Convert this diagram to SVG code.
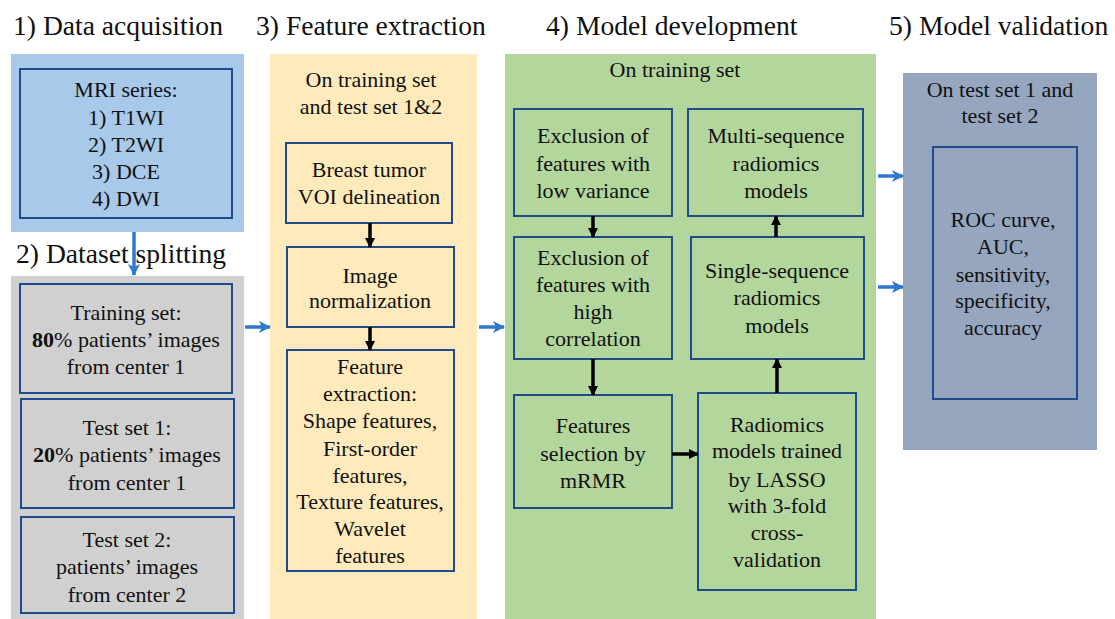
<svg xmlns="http://www.w3.org/2000/svg" width="1115" height="619" viewBox="0 0 1115 619">
<defs>
<style>
text{fill:#111;}
.t{font-size:27.6px;}
.b{font-size:22px;text-anchor:middle;}
.box{stroke:#1f4b8a;stroke-width:2;}
.blue{stroke:#2e78d0;stroke-width:3.5;fill:none;}
.blk{stroke:#000;stroke-width:3.5;fill:none;}
</style>
<marker id="ab" markerUnits="userSpaceOnUse" markerWidth="12" markerHeight="12" refX="11" refY="6" orient="auto"><path d="M0,0 L12,6 L0,12 L3,6 Z" fill="#2e78d0"/></marker>
<marker id="ak" markerUnits="userSpaceOnUse" markerWidth="10" markerHeight="10" refX="9" refY="5" orient="auto"><path d="M0,0 L10,5 L0,10 Z" fill="#000"/></marker>
</defs>
<rect width="1115" height="619" fill="#fff"/>

<g font-family="Liberation Serif, DejaVu Serif, serif">
<g id="titles">
<text class="t" x="13" y="35">1) Data acquisition</text>
<text class="t" x="256" y="35">3) Feature extraction</text>
<text class="t" x="546" y="35">4) Model development</text>
<text class="t" x="889" y="35">5) Model validation</text>
<text class="t" x="16" y="263">2) Dataset splitting</text>
</g>

<g id="panels">
<rect x="11" y="54" width="233" height="178" fill="#a8c9e9"/>
<rect x="11" y="276" width="233" height="343" fill="#d0d0d0"/>
<rect x="270" y="54" width="207" height="565" fill="#feeabb"/>
<rect x="505" y="54" width="371" height="565" fill="#b3d69d"/>
<rect x="903" y="73" width="194" height="377" fill="#95a6be"/>
</g>

<g id="mri">
<rect class="box" x="20" y="69" width="212" height="149" fill="#a8c9e9"/>
<text class="b" x="126" y="97">MRI series:</text>
<text class="b" x="126" y="125">1) T1WI</text>
<text class="b" x="126" y="152">2) T2WI</text>
<text class="b" x="126" y="179">3) DCE</text>
<text class="b" x="126" y="206">4) DWI</text>
</g>

<g id="training">
<rect class="box" x="20" y="284" width="212" height="109" fill="#d0d0d0"/>
<text class="b" x="126" y="320">Training set:</text>
<text class="b" x="126" y="347"><tspan font-weight="bold">80</tspan>% patients’ images</text>
<text class="b" x="126" y="374">from center 1</text>
</g>

<g id="test1">
<rect class="box" x="21" y="399" width="213" height="109" fill="#d0d0d0"/>
<text class="b" x="127" y="435">Test set 1:</text>
<text class="b" x="127" y="462"><tspan font-weight="bold">20</tspan>% patients’ images</text>
<text class="b" x="127" y="490">from center 1</text>
</g>

<g id="test2">
<rect class="box" x="21" y="517" width="213" height="96" fill="#d0d0d0"/>
<text class="b" x="127" y="547">Test set 2:</text>
<text class="b" x="127" y="574">patients’ images</text>
<text class="b" x="127" y="602">from center 2</text>
</g>

<g id="fe-label">
<text class="b" x="371" y="87">On training set</text>
<text class="b" x="371" y="114">and test set 1&amp;2</text>
</g>

<g id="voi">
<rect class="box" x="286" y="143" width="166" height="80" fill="#feeabb"/>
<text class="b" x="369" y="177">Breast tumor</text>
<text class="b" x="369" y="204">VOI delineation</text>
</g>

<g id="norm">
<rect class="box" x="287" y="247" width="167" height="80" fill="#feeabb"/>
<text class="b" x="370" y="283">Image</text>
<text class="b" x="370" y="308">normalization</text>
</g>

<g id="fext">
<rect class="box" x="287" y="350" width="167" height="221" fill="#feeabb"/>
<text class="b" x="370" y="374">Feature</text>
<text class="b" x="370" y="401">extraction:</text>
<text class="b" x="370" y="428">Shape features,</text>
<text class="b" x="370" y="456">First-order</text>
<text class="b" x="370" y="483">features,</text>
<text class="b" x="370" y="509">Texture features,</text>
<text class="b" x="370" y="536">Wavelet</text>
<text class="b" x="370" y="563">features</text>
</g>

<g id="md-label">
<text class="b" x="675" y="77">On training set</text>
</g>

<g id="lowvar">
<rect class="box" x="514" y="109" width="158" height="107" fill="#b3d69d"/>
<text class="b" x="593" y="143">Exclusion of</text>
<text class="b" x="593" y="171">features with</text>
<text class="b" x="593" y="198">low variance</text>
</g>

<g id="highcorr">
<rect class="box" x="514" y="237" width="158" height="122" fill="#b3d69d"/>
<text class="b" x="593" y="265">Exclusion of</text>
<text class="b" x="593" y="292">features with</text>
<text class="b" x="593" y="319">high</text>
<text class="b" x="593" y="346">correlation</text>
</g>

<g id="mrmr">
<rect class="box" x="514" y="395" width="158" height="113" fill="#b3d69d"/>
<text class="b" x="593" y="433">Features</text>
<text class="b" x="593" y="461">selection by</text>
<text class="b" x="593" y="488">mRMR</text>
</g>

<g id="multi">
<rect class="box" x="688" y="109" width="175" height="107" fill="#b3d69d"/>
<text class="b" x="776" y="143">Multi-sequence</text>
<text class="b" x="776" y="171">radiomics</text>
<text class="b" x="776" y="198">models</text>
</g>

<g id="single">
<rect class="box" x="691" y="237" width="173" height="122" fill="#b3d69d"/>
<text class="b" x="777" y="278">Single-sequence</text>
<text class="b" x="777" y="305">radiomics</text>
<text class="b" x="777" y="333">models</text>
</g>

<g id="lasso">
<rect class="box" x="698" y="393" width="158" height="197" fill="#b3d69d"/>
<text class="b" x="777" y="432">Radiomics</text>
<text class="b" x="777" y="458">models trained</text>
<text class="b" x="777" y="487">by LASSO</text>
<text class="b" x="777" y="513">with 3-fold</text>
<text class="b" x="777" y="540">cross-</text>
<text class="b" x="777" y="567">validation</text>
</g>

<g id="val-label">
<text class="b" x="1000" y="97">On test set 1 and</text>
<text class="b" x="1000" y="123">test set 2</text>
</g>

<g id="metrics">
<rect class="box" x="933" y="147" width="144" height="252" fill="#95a6be"/>
<text class="b" x="1003" y="227">ROC curve,</text>
<text class="b" x="1003" y="254">AUC,</text>
<text class="b" x="1003" y="282">sensitivity,</text>
<text class="b" x="1003" y="308">specificity,</text>
<text class="b" x="1003" y="335">accuracy</text>
</g>
</g>

<g id="connectors">
<line class="blue" x1="134" y1="232" x2="134" y2="275" marker-end="url(#ab)"/>
<line class="blue" x1="245" y1="327" x2="270" y2="327" marker-end="url(#ab)"/>
<line class="blue" x1="479" y1="327" x2="504" y2="327" marker-end="url(#ab)"/>
<line class="blue" x1="878" y1="176" x2="903" y2="176" marker-end="url(#ab)"/>
<line class="blue" x1="878" y1="287" x2="903" y2="287" marker-end="url(#ab)"/>
<line class="blk" x1="370" y1="223" x2="370" y2="247" marker-end="url(#ak)"/>
<line class="blk" x1="370" y1="327" x2="370" y2="350" marker-end="url(#ak)"/>
<line class="blk" x1="593" y1="216" x2="593" y2="237" marker-end="url(#ak)"/>
<line class="blk" x1="593" y1="359" x2="593" y2="395" marker-end="url(#ak)"/>
<line class="blk" x1="672" y1="454" x2="698" y2="454" marker-end="url(#ak)"/>
<line class="blk" x1="777" y1="393" x2="777" y2="359" marker-end="url(#ak)"/>
<line class="blk" x1="776" y1="237" x2="776" y2="216" marker-end="url(#ak)"/>
</g>
</svg>
